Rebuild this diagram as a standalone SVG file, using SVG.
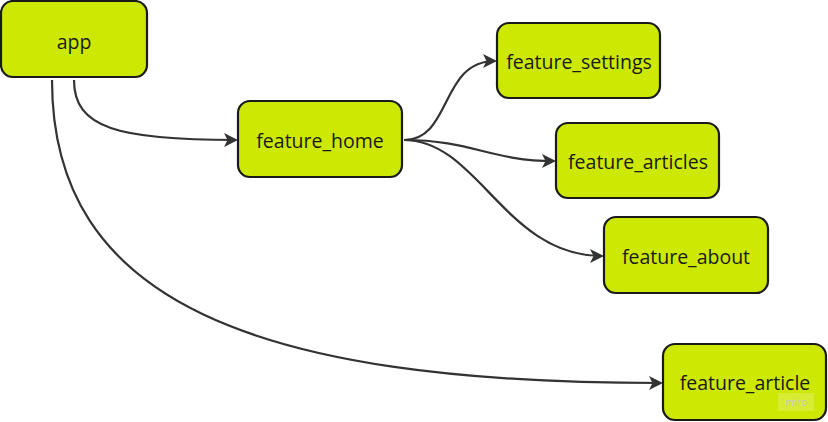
<svg xmlns="http://www.w3.org/2000/svg" width="828" height="422" viewBox="0 0 828 422">
<defs>
<style>
.node rect{fill:#cde803;stroke:#1a1a1a;stroke-width:2.2}
.node text{font-family:"Open Sans","Noto Sans",sans-serif;font-size:19.5px;fill:#1a1a1a;text-anchor:middle;dominant-baseline:central}
.edges path{fill:none;stroke:#333;stroke-width:2.2;marker-end:url(#arr)}
</style>
<marker id="arr" viewBox="0 0 14 14" refX="12" refY="7" markerWidth="14" markerHeight="14" markerUnits="userSpaceOnUse" orient="auto">
<path d="M0,0 L14,7 L0,14 L3.5,7 Z" fill="#333"/>
</marker>
</defs>
<rect width="828" height="422" fill="#fff"/>
<g class="edges">
<path d="M74,80 C74,128 118,140 236,140"/>
<path d="M52,80 C52,300 250,383 661,383"/>
<path d="M404,140 C452,140 440,61 495,61"/>
<path d="M404,140 C472,140 490,161 554,161"/>
<path d="M404,140 C478,140 505,256 602,256"/>
</g>
<g id="app" class="node"><rect x="1" y="1" width="146" height="76" rx="12"/><text x="74" y="41">app</text></g>
<g id="feature_home" class="node"><rect x="238" y="101" width="164" height="76" rx="12"/><text x="320" y="140">feature_home</text></g>
<g id="feature_settings" class="node"><rect x="497" y="23" width="163" height="75" rx="12"/><text x="579" y="61">feature_settings</text></g>
<g id="feature_articles" class="node"><rect x="556" y="123" width="163" height="75" rx="12"/><text x="638" y="161">feature_articles</text></g>
<g id="feature_about" class="node"><rect x="604" y="217" width="164" height="76" rx="12"/><text x="686" y="256">feature_about</text></g>
<g id="feature_article" class="node"><rect x="663" y="344" width="163" height="76" rx="12"/><text x="745" y="382">feature_article</text></g>
<g id="watermark"><rect x="778" y="393" width="36" height="18" fill="#fff" opacity="0.2"/><text x="796" y="402" font-family="Open Sans,sans-serif" font-size="10" fill="#c8c8c8" text-anchor="middle" dominant-baseline="central">miro</text></g>
</svg>
